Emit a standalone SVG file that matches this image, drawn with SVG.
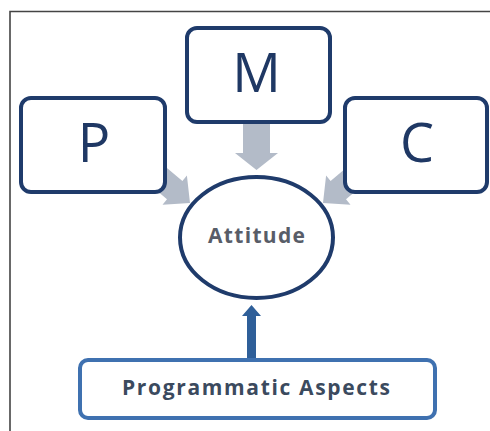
<svg xmlns="http://www.w3.org/2000/svg" width="490" height="431" viewBox="0 0 490 431">
<style>
.box{fill:#ffffff;stroke:#1f3b6b;stroke-width:4}
.letter{font-family:"Open Sans","Liberation Sans",sans-serif;font-size:54px;fill:#1f3864;text-anchor:middle}
.garrow{fill:#b3bbc8}
.lbl{font-family:"Open Sans","Liberation Sans",sans-serif;font-weight:bold;font-size:21px;text-anchor:middle}
</style>
<rect x="0" y="0" width="490" height="431" fill="#ffffff"/>
<path d="M10,431 V11.5 H490" fill="none" stroke="#444444" stroke-width="1.6"/>
<g id="connectors">
<polygon class="garrow" points="243,120 270,120 270,153 278,153 256.5,170 235,153 243,153"/>
<polygon class="garrow" points="190,203 186.9,175.5 182.4,180.9 144.1,148.7 128.7,167.1 167,199.3 162.5,204.7"/>
<polygon class="garrow" points="323,203 326.1,175.5 330.6,180.9 368.9,148.7 384.3,167.1 346,199.3 350.5,204.7"/>
<polygon fill="#2f5f99" points="247,362 247,316 242,316 251.5,305 261,316 256,316 256,362"/>
</g>
<g id="node-M">
<rect class="box" x="187" y="28" width="143" height="94" rx="10"/>
<text class="letter" x="256.5" y="92">M</text>
</g>
<g id="node-P">
<rect class="box" x="21" y="98" width="144" height="94" rx="10"/>
<text class="letter" x="94" y="162">P</text>
</g>
<g id="node-C">
<rect class="box" x="345" y="98" width="142" height="94" rx="10"/>
<text class="letter" x="417" y="162">C</text>
</g>
<g id="node-attitude">
<ellipse cx="256.5" cy="237.5" rx="76.5" ry="60.5" fill="#ffffff" stroke="#1f3b6b" stroke-width="4"/>
<text class="lbl" x="256.5" y="243" fill="#585d68" textLength="97" lengthAdjust="spacing">Attitude</text>
</g>
<g id="node-programmatic">
<rect x="80" y="360" width="355" height="58" rx="8" fill="#ffffff" stroke="#3f71b0" stroke-width="4"/>
<text class="lbl" x="256" y="395" fill="#3b4a5e" textLength="268" lengthAdjust="spacing">Programmatic Aspects</text>
</g>
</svg>
